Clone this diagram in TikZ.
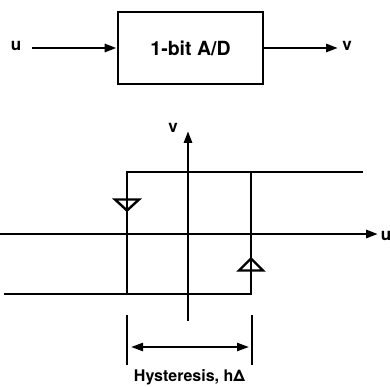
\documentclass[tikz,border=0pt]{standalone}
\usepackage{fontspec}
\setmainfont{TeX Gyre Heros}
\usetikzlibrary{arrows.meta}
\begin{document}
\begin{tikzpicture}[x=1pt,y=-1pt,
  thick line/.style={line width=2.8pt},
  arr/.style={thick line,-{Triangle[length=12pt,width=8pt]}},
  lbl/.style={font=\bfseries\fontsize{17}{17}\selectfont,inner sep=0pt},
  blk/.style={draw,line width=2.8pt,minimum width=145pt,minimum height=72pt,inner sep=0pt,font=\bfseries\fontsize{19.5}{19.5}\selectfont},
  tri/.style={draw,line width=2.4pt,fill=white}]
\useasboundingbox (0,0) rectangle (390,387);
% block diagram
\node[blk] (ad) at (190.5,48) {1-bit A/D};
\node[lbl] (u) at (16,46) {u};
\node[lbl] (v) at (347,46) {v};
\coordinate (uin) at (32,48);
\coordinate (vout) at (338,48);
\draw[arr] (uin) -- (ad.west);
\draw[arr] (ad.east) -- (vout);
% axes
\coordinate (xa0) at (0,234);
\coordinate (xa1) at (378,234);
\coordinate (ya0) at (188,321);
\coordinate (ya1) at (188,131);
\draw[arr] (xa0) -- (xa1);
\draw[arr] (ya0) -- (ya1);
\node[lbl] (ulab) at (386,236) {u};
\node[lbl] (vlab) at (173,128) {v};
% hysteresis loop
\coordinate (tl) at (127,172);
\coordinate (tr) at (363,172);
\coordinate (bl) at (4,294);
\coordinate (br) at (251,294);
\coordinate (rt) at (251,172);
\coordinate (lb) at (127,294);
\draw[thick line] (tr) -- (tl) -- (lb);
\draw[thick line] (bl) -- (br) -- (rt);
% direction triangles
\draw[tri] (115,199.5) -- (139,199.5) -- (127,210.5) -- cycle;
\draw[tri] (239,270.5) -- (263,270.5) -- (251,258.5) -- cycle;
\draw[line width=2.4pt] (127,199) -- (127,211);
\draw[line width=2.4pt] (251,258) -- (251,271);
% hysteresis dimension
\coordinate (t1a) at (127,315);
\coordinate (t1b) at (127,365);
\coordinate (t2a) at (252,315);
\coordinate (t2b) at (252,365);
\draw[line width=1.4pt] (t1a) -- (t1b);
\draw[line width=1.4pt] (t2a) -- (t2b);
\coordinate (d1) at (131,347);
\coordinate (d2) at (249,347);
\draw[line width=2.2pt,{Triangle[length=12pt,width=8pt]}-{Triangle[length=12pt,width=8pt]}] (d1) -- (d2);
\node[lbl,font=\bfseries\fontsize{16}{16}\selectfont] (hys) at (189.5,377) {Hysteresis, hΔ};
\end{tikzpicture}
\end{document}
